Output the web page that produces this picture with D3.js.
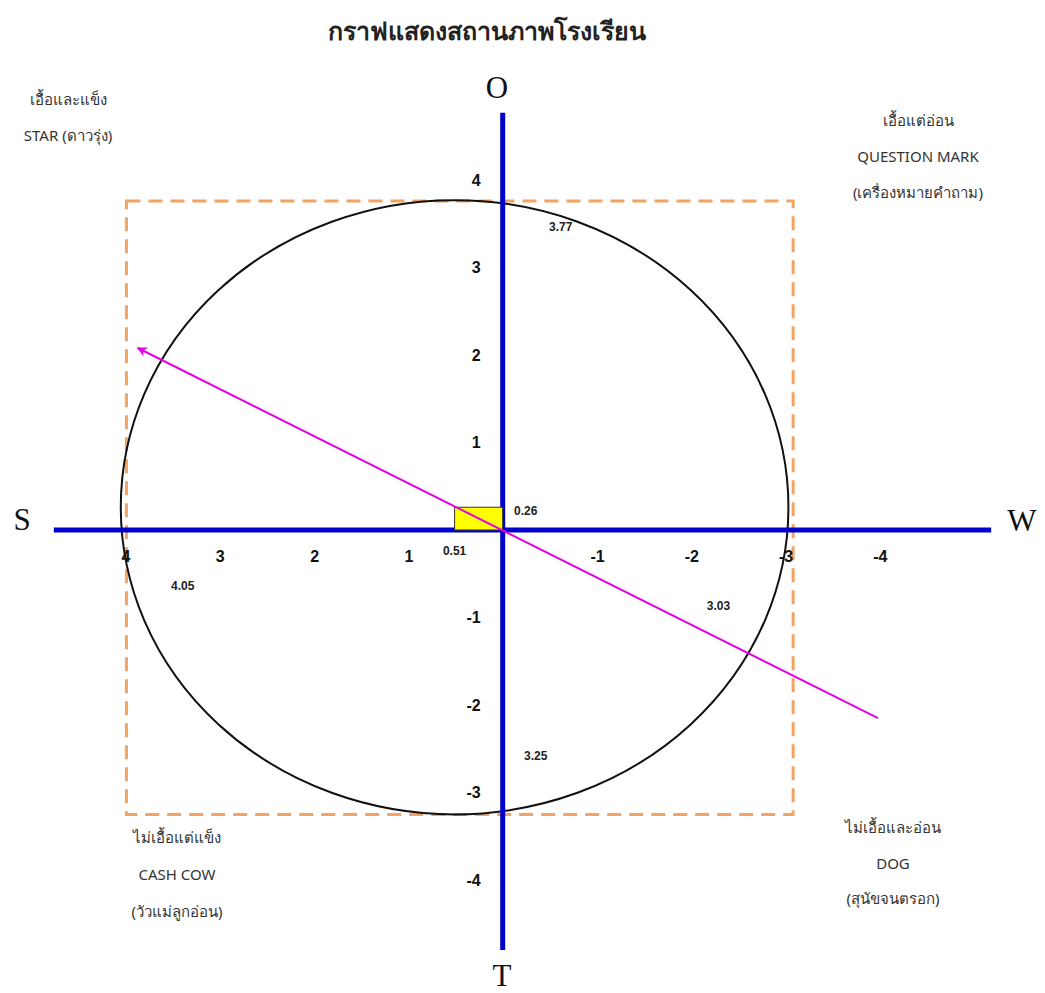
<!DOCTYPE html>
<meta charset="utf-8">
<style>
    body { margin: 0; background: #fff; }
    .tick text { font: bold 16px "Liberation Sans", Arial, sans-serif; fill: #111; }
    .quad { font: 15px Tahoma, "Liberation Sans Narrow", "Noto Sans", sans-serif; fill: #333; }
    .val { font: bold 12px "Liberation Sans", Arial, sans-serif; fill: #222; }
    .big { font: 31px "Liberation Serif", "Times New Roman", serif; fill: #111; }
</style>
<body>
<script src="https://cdn.jsdelivr.net/npm/d3@7"></script>
<script>

    // tick labels on both axes
    var xTicks = [4, 3, 2, 1, -1, -2, -3, -4];
    var yTicks = [4, 3, 2, 1, -1, -2, -3, -4];

    // S, W, O, T scores
    var factorNames = ["S", "W", "O", "T"];
    var factorScores = [4.05, 3.03, 3.77, 3.25];

    // centre point (S-W, O-T)/2
    var centre = [0.51, 0.26];

    // strategy arrow, from tail to head
    var arrowFrom = [-3.98, -2.15];
    var arrowTo = [3.87, 2.08];

    // dashed frame (left, right, top, bottom)
    var frame = [3.99, -3.08, 3.76, -3.25];

    // axis extents
    var xExtent = [4.76, -5.18];
    var yExtent = [4.77, -4.8];

    var title = "กราฟแสดงสถานภาพโรงเรียน";
    var quadrants = [
        ["เอื้อและแข็ง", "STAR (ดาวรุ่ง)"],
        ["เอื้อแต่อ่อน", "QUESTION  MARK", "(เครื่องหมายคำถาม)"],
        ["ไม่เอื้อแต่แข็ง", "CASH  COW", "(วัวแม่ลูกอ่อน)"],
        ["ไม่เอื้อและอ่อน", "DOG", "(สุนัขจนตรอก)"]
    ];

    var width = 1045, height = 993;

    var x = d3.scaleLinear().domain([4, -4]).range([125.5, 879.9]);
    var y = d3.scaleLinear().domain([4, -4]).range([180, 880]);

    var svg = d3.select("body").append("svg")
            .attr("width", width)
            .attr("height", height);

    svg.append("defs").append("marker")
            .attr("id", "head")
            .attr("viewBox", "0 0 10 10")
            .attr("refX", 9)
            .attr("refY", 5)
            .attr("markerWidth", 5)
            .attr("markerHeight", 5)
            .attr("orient", "auto")
            .append("path")
            .attr("d", "M0,0L10,5L0,10L3,5Z")
            .attr("fill", "#e600e6");

    svg.append("text")
            .attr("x", 487)
            .attr("y", 40)
            .attr("text-anchor", "middle")
            .style("font", "bold 25px Tahoma, 'Noto Sans', sans-serif")
            .style("fill", "#222")
            .text(title);

    // dashed frame
    svg.append("rect")
            .attr("x", x(frame[0]))
            .attr("y", y(frame[2]))
            .attr("width", x(frame[1]) - x(frame[0]))
            .attr("height", y(frame[3]) - y(frame[2]))
            .attr("fill", "none")
            .attr("stroke", "#f2a464")
            .attr("stroke-width", 3)
            .attr("stroke-dasharray", "14,8");

    // ellipse through the four scores
    var S = factorScores[0], W = factorScores[1], O = factorScores[2], T = factorScores[3];
    svg.append("ellipse")
            .attr("cx", x((S - W) / 2))
            .attr("cy", y((O - T) / 2))
            .attr("rx", (x(-W) - x(S)) / 2)
            .attr("ry", (y(-T) - y(O)) / 2)
            .attr("fill", "none")
            .attr("stroke", "#111")
            .attr("stroke-width", 2);

    // axes
    svg.append("line")
            .attr("x1", x(xExtent[0])).attr("x2", x(xExtent[1]))
            .attr("y1", y(0)).attr("y2", y(0))
            .attr("stroke", "#0000cc").attr("stroke-width", 5);
    svg.append("line")
            .attr("x1", x(0)).attr("x2", x(0))
            .attr("y1", y(yExtent[0])).attr("y2", y(yExtent[1]))
            .attr("stroke", "#0000cc").attr("stroke-width", 5);

    var xAxis = d3.axisBottom(x).tickValues(xTicks).tickSize(0).tickPadding(21)
            .tickFormat(function(d) { return String(d); });
    var yAxis = d3.axisLeft(y).tickValues(yTicks).tickSize(0).tickPadding(22)
            .tickFormat(function(d) { return String(d); });

    svg.append("g")
            .attr("transform", "translate(0," + y(0) + ")")
            .call(xAxis)
            .call(function(g) { g.select(".domain").remove(); });
    svg.append("g")
            .attr("transform", "translate(" + x(0) + ",0)")
            .call(yAxis)
            .call(function(g) { g.select(".domain").remove(); });

    // centre box
    svg.append("rect")
            .attr("x", x(centre[0]))
            .attr("y", y(centre[1]))
            .attr("width", x(0) - x(centre[0]))
            .attr("height", y(0) - y(centre[1]))
            .attr("fill", "#ffff00")
            .attr("stroke", "#333")
            .attr("stroke-width", 1);

    // arrow
    svg.append("line")
            .attr("x1", x(arrowFrom[0])).attr("y1", y(arrowFrom[1]))
            .attr("x2", x(arrowTo[0])).attr("y2", y(arrowTo[1]))
            .attr("stroke", "#e600e6")
            .attr("stroke-width", 2)
            .attr("marker-end", "url(#head)");

    // value labels
    var vals = [
        {t: O, px: x(0) + 58, py: y(O) + 31},
        {t: S, px: x(S) + 62, py: y(0) + 60},
        {t: W, px: x(-W) - 70, py: y(0) + 80},
        {t: T, px: x(0) + 33, py: y(-T) - 54},
        {t: centre[0], px: x(centre[0]), py: y(0) + 25},
        {t: centre[1], px: x(0) + 23, py: y(centre[1]) + 8}
    ];
    svg.selectAll("text.val").data(vals).enter().append("text")
            .attr("class", "val")
            .attr("x", function(d) { return d.px; })
            .attr("y", function(d) { return d.py; })
            .attr("text-anchor", "middle")
            .text(function(d) { return d3.format(".2f")(d.t); });

    // S W O T letters
    var letterPos = [[22, 530], [1022, 531], [497, 98], [502, 986]];
    svg.selectAll("text.big").data(factorNames).enter().append("text")
            .attr("class", "big")
            .attr("x", function(d, i) { return letterPos[i][0]; })
            .attr("y", function(d, i) { return letterPos[i][1]; })
            .attr("text-anchor", "middle")
            .text(function(d) { return d; });

    // quadrant captions
    var quadPos = [[68, 105, 36], [918, 126, 36], [177, 843, 37], [893, 833, 35.5]];
    quadrants.forEach(function(lines, i) {
        var t = svg.append("text")
                .attr("class", "quad")
                .attr("text-anchor", "middle");
        lines.forEach(function(s, j) {
            t.append("tspan")
                    .attr("x", quadPos[i][0])
                    .attr("y", quadPos[i][1] + j * quadPos[i][2])
                    .text(s);
        });
    });

</script>
